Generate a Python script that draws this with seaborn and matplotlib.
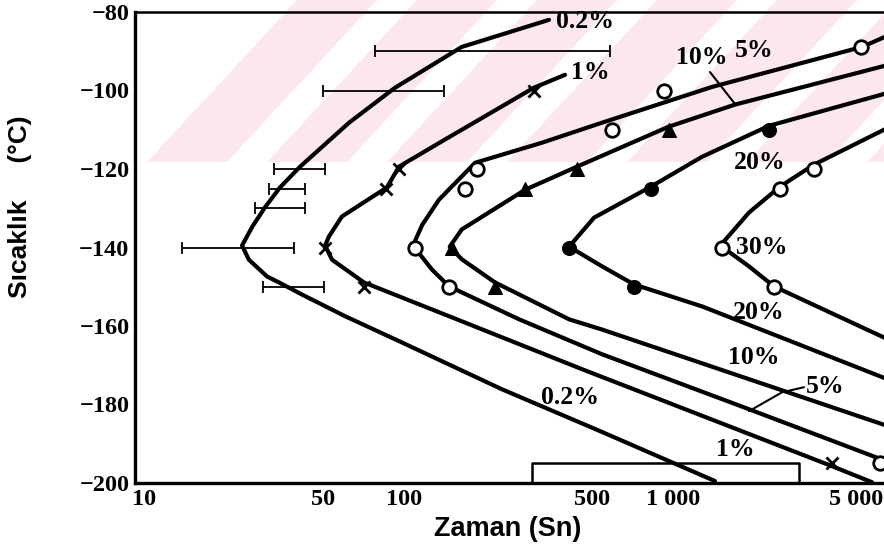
import matplotlib
matplotlib.use("Agg")
import matplotlib.pyplot as plt
import matplotlib.transforms as mtransforms
import seaborn as sns
from matplotlib.patches import Polygon
from matplotlib.ticker import FixedLocator, NullFormatter

# --- veriler ---
# egriler: zaman (sn), sicaklik (C)
c02_x = [346, 164, 92.6, 62.5, 41.1, 34.6, 30.4, 27.3, 25.0, 26.5, 31.0, 34.3, 41.8, 60.4, 98.3, 231, 545, 1433]
c02_y = [-82, -88.9, -99.3, -108.2, -119.4, -124.7, -129.8, -134.7, -139.5, -143.1, -147.4, -148.9, -152, -157.5, -164.2, -176.1, -187, -199.5]

c1_x = [397, 304, 142, 95.8, 86.4, 58.8, 52.6, 50.9, 54.0, 71.0, 147, 459, 3900, 5495]
c1_y = [-96, -99.3, -112.5, -119.4, -124.7, -132.1, -137.2, -139.5, -143.1, -148.9, -157.5, -171, -195.7, -199.8]

c5_x = [6300, 5044, 1396, 545, 326, 184, 135, 117, 108, 127, 147, 268, 545, 1917, 6300]
c5_y = [-86.0, -88.9, -99.1, -108.2, -113.3, -118.4, -127.8, -134.2, -139.5, -145.6, -149.9, -158.3, -167.2, -181.2, -194.6]

c10_x = [6300, 1700, 966, 440, 282, 164, 148, 164, 218, 411, 545, 6300]
c10_y = [-93.5, -103.6, -109.2, -119.4, -125.3, -135.4, -139.8, -143, -148.9, -158.3, -160.9, -185.5]

c20_x = [6300, 2275, 1282, 828, 509, 411, 545, 716, 1282, 6300]
c20_y = [-100.6, -109, -116.9, -124.5, -132.4, -139.8, -144.8, -149.4, -155, -173.6]

c30_x = [6300, 3342, 2500, 1917, 1500, 1917, 2373, 6300]
c30_y = [-109.5, -118.9, -124.5, -131.1, -139.5, -144.8, -149.9, -163.4]

# olcum noktalari
m1_x = [304, 96, 86, 51, 71, 3900]
m1_y = [-100, -120, -125, -140, -150, -195]
m5_x = [5000, 926, 593, 187, 169, 110, 147, 5900]
m5_y = [-89, -100, -110, -120, -125, -140, -150, -195]
m10_x = [966, 440, 282, 151, 218]
m10_y = [-110, -120, -125, -140, -150]
m20_x = [2275, 828, 411, 716]
m20_y = [-110, -125, -140, -150]
m30_x = [3342, 2500, 1521, 2373]
m30_y = [-120, -125, -140, -150]

# %0.2 egrisinin hata cubuklari
eb_t = [-90, -100, -120, -125, -130, -140, -150]
eb_lo = [78, 50, 33, 31.5, 28, 15, 30]
eb_hi = [583, 141, 51, 43, 43, 39, 50.5]

# %1 alt hata cubugu
br_x = [300, 300, 2940, 2940]
br_y = [-200, -195, -195, -200]

# etiketler
lab_txt = ["0.2%", "1%", "10%", "5%", "20%", "30%", "20%", "10%", "5%", "0.2%", "1%"]
lab_x = [471, 491, 1282, 2000, 2106, 2143, 2090, 2000, 3673, 414, 1700]
lab_y = [-82.5, -95.5, -91.7, -89.7, -118.4, -140, -156.5, -168, -175.3, -178.1, -191.4]

# isaret cizgileri
p1_x = [1373, 1700]
p1_y = [-95.3, -103.4]
p2_x = [3069, 2543, 1917]
p2_y = [-175.6, -176.9, -181.7]

xt = [10, 50, 100, 500, 1000, 5000]
xt_lab = ["10", "50", "100", "500", "1 000", "5 000"]
xt_minor = [20, 30, 40, 60, 70, 80, 90, 200, 300, 400, 600, 700, 800, 900, 2000, 3000, 4000, 6000]
yt = [-200, -180, -160, -140, -120, -100, -80]

sns.set_style("white")
plt.rcParams['font.family'] = ['Liberation Serif', 'DejaVu Serif']
plt.rcParams['text.color'] = 'black'
plt.rcParams['axes.labelcolor'] = 'black'
plt.rcParams['xtick.color'] = 'black'
plt.rcParams['ytick.color'] = 'black'

fig = plt.figure(figsize=(8.84, 5.53), dpi=100)
W, H = 884, 553
ax = fig.add_axes([135 / W, 70 / H, 755 / W, 471 / H])
ax.set_facecolor('none')

# arka plandaki pembe filigran seritleri
for k in range(7):
    x0 = 147 + k * 120
    pts = [(x0 / W, 1 - 162 / H), ((x0 + 80) / W, 1 - 162 / H),
           ((x0 + 80 + 150) / W, 1.0), ((x0 + 150) / W, 1.0)]
    fig.add_artist(Polygon(pts, closed=True, transform=fig.transFigure,
                           facecolor='#fce8ec', edgecolor='none', zorder=-5))

ax.set_xscale('log')
ax.set_xlim(10, 6412)
ax.set_ylim(-200, -80)

lw = 3
for cx, cy in [(c02_x, c02_y), (c1_x, c1_y), (c5_x, c5_y),
               (c10_x, c10_y), (c20_x, c20_y), (c30_x, c30_y)]:
    sns.lineplot(x=cx, y=cy, sort=False, estimator=None, color='black',
                 lw=lw, ax=ax, zorder=3)

sns.scatterplot(x=m1_x, y=m1_y, marker='x', s=75, color='black', linewidth=2, ax=ax, zorder=4)
sns.scatterplot(x=m5_x, y=m5_y, marker='o', s=95, facecolor='white', edgecolor='black', linewidth=2, ax=ax, zorder=4)
sns.scatterplot(x=m10_x, y=m10_y, marker='^', s=100, color='black', edgecolor='black', ax=ax, zorder=4)
sns.scatterplot(x=m20_x, y=m20_y, marker='o', s=100, color='black', edgecolor='black', ax=ax, zorder=4)
sns.scatterplot(x=m30_x, y=m30_y, marker='o', s=95, facecolor='white', edgecolor='black', linewidth=2, ax=ax, zorder=4)

for t, lo, hi in zip(eb_t, eb_lo, eb_hi):
    ax.errorbar([lo], [t], xerr=[[0], [hi - lo]], fmt='none', ecolor='black',
                elinewidth=1.3, capsize=4.5, capthick=1.3, zorder=2)

ax.plot(br_x, br_y, color='black', lw=1.8, zorder=2)
ax.plot(p1_x, p1_y, color='black', lw=1.5, zorder=2)
ax.plot(p2_x, p2_y, color='black', lw=1.5, zorder=2)

for s, x, y in zip(lab_txt, lab_x, lab_y):
    ax.text(x, y, s, ha='center', va='center', fontsize=18.5, fontweight='bold',
            color='black', zorder=5)

# eksenler
ax.xaxis.set_major_locator(FixedLocator(xt))
ax.xaxis.set_minor_locator(FixedLocator(xt_minor))
ax.xaxis.set_minor_formatter(NullFormatter())
ax.set_xticklabels(xt_lab)
ax.set_yticks(yt)
ax.set_yticklabels(["\u2212" + str(abs(v)) for v in yt])
ax.tick_params(axis='both', which='major', direction='in', length=12, width=1.3,
               labelsize=17.5, pad=4, color='black', labelcolor='black')
ax.tick_params(axis='x', which='minor', direction='in', length=8, width=1.3, color='black')
for lab in ax.get_xticklabels() + ax.get_yticklabels():
    lab.set_fontweight('bold')

# ilk ve son x etiketlerini biraz kaydir
xl = ax.get_xticklabels()
xl[0].set_transform(xl[0].get_transform() + mtransforms.ScaledTranslation(0.09, 0, fig.dpi_scale_trans))
xl[-1].set_transform(xl[-1].get_transform() + mtransforms.ScaledTranslation(-0.05, 0, fig.dpi_scale_trans))

for side in ['left', 'bottom']:
    ax.spines[side].set_linewidth(2.4)
ax.spines['top'].set_linewidth(1.8)
ax.spines['right'].set_visible(False)
for sp in ax.spines.values():
    sp.set_color('black')

ax.set_xlabel('Zaman (Sn)', fontsize=19.5, fontweight='bold', family=['Liberation Sans', 'DejaVu Sans'],
              va='center', color='black')
ax.xaxis.set_label_coords(0.493, -0.098)
ax.set_ylabel('Sıcaklık     (°C)', fontsize=19, fontweight='bold', family=['Liberation Sans', 'DejaVu Sans'],
              va='center', color='black')
ax.yaxis.set_label_coords(-0.152, 0.586)

fig.savefig('out.png', dpi=100, facecolor='white')
